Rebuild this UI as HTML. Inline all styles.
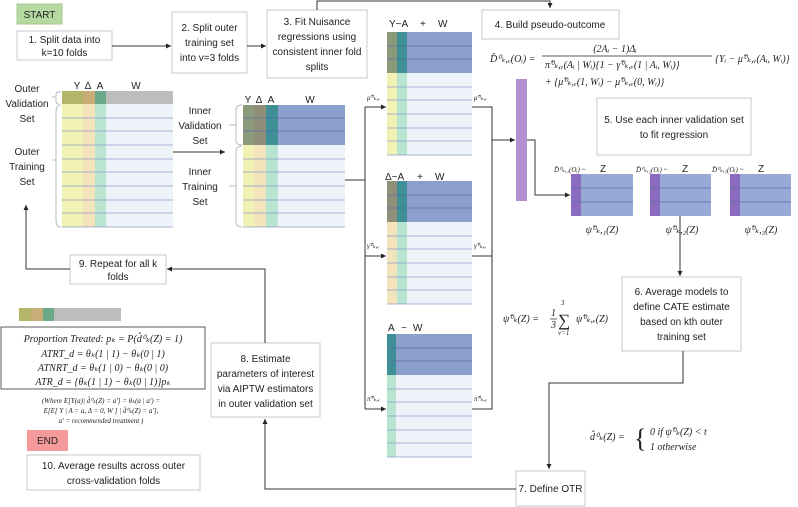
<!DOCTYPE html>
<html><head><meta charset="utf-8"><style>
html,body{margin:0;padding:0;background:#fff;}
svg{display:block;}
.t{font-family:"Liberation Sans",sans-serif;font-size:10px;fill:#222;}
.m{font-family:"Liberation Serif",serif;font-style:italic;font-size:10px;fill:#222;}
.s{font-family:"Liberation Serif",serif;font-style:italic;font-size:7px;fill:#222;}
.box{fill:#fff;stroke:#c8c8c8;stroke-width:1;}
.ln{fill:none;stroke:#333;stroke-width:1;}
.rl{stroke:#8e9cc8;stroke-width:0.8;}
</style></head><body>
<svg width="798" height="507" viewBox="0 0 798 507" xmlns="http://www.w3.org/2000/svg">
<defs><marker id="a" markerWidth="6" markerHeight="6" refX="5" refY="3" orient="auto"><path d="M0,0.5 L5,3 L0,5.5z" fill="#222"/></marker></defs>

<rect x="17" y="4" width="45" height="20" fill="#b5d9a0" stroke="#a8c890"/>
<text class="t" x="39.5" y="18" text-anchor="middle">START</text>
<rect class="box" x="17" y="31" width="95" height="29"/>
<text class="t" x="64.5" y="43" text-anchor="middle">1. Split data into</text>
<text class="t" x="64.5" y="56" text-anchor="middle">k=10 folds</text>
<path class="ln" d="M112,46 H171" marker-end="url(#a)"/>
<rect class="box" x="172" y="12" width="75" height="61"/>
<text class="t" x="209.5" y="31" text-anchor="middle">2. Split outer</text>
<text class="t" x="209.5" y="46" text-anchor="middle">training set</text>
<text class="t" x="209.5" y="61" text-anchor="middle">into v=3 folds</text>
<path class="ln" d="M247,46 H266" marker-end="url(#a)"/>
<rect class="box" x="267" y="10" width="100" height="68"/>
<text class="t" x="317" y="25" text-anchor="middle">3. Fit Nuisance</text>
<text class="t" x="317" y="40" text-anchor="middle">regressions using</text>
<text class="t" x="317" y="55" text-anchor="middle">consistent inner fold</text>
<text class="t" x="317" y="70" text-anchor="middle">splits</text>
<path class="ln" d="M317,10 V1 H550 V8" marker-end="url(#a)"/>
<rect class="box" x="482" y="10" width="137" height="29"/>
<text class="t" x="550" y="28" text-anchor="middle">4. Build pseudo-outcome</text>

<!-- outer table -->
<text class="t" x="77" y="89" text-anchor="middle">Y</text>
<text class="t" x="88" y="89" text-anchor="middle">Δ</text>
<text class="t" x="100" y="89" text-anchor="middle">A</text>
<text class="t" x="136" y="89" text-anchor="middle">W</text>
<rect x="62" y="91" width="21" height="13" fill="#b5b56a"/>
<rect x="83" y="91" width="12" height="13" fill="#c9ad78"/>
<rect x="95" y="91" width="11" height="13" fill="#6aaa88"/>
<rect x="106" y="91" width="67" height="13" fill="#bdbdbd"/>
<rect x="62" y="104" width="21" height="123" fill="#f2f2b4"/>
<rect x="83" y="104" width="12" height="123" fill="#f3e4bc"/>
<rect x="95" y="104" width="11" height="123" fill="#b8e4d0"/>
<rect x="106" y="104" width="67" height="123" fill="#eef3fa"/>
<g class="rl"><line x1="62" y1="118" x2="173" y2="118"/><line x1="62" y1="131" x2="173" y2="131"/><line x1="62" y1="145" x2="173" y2="145"/><line x1="62" y1="159" x2="173" y2="159"/><line x1="62" y1="172" x2="173" y2="172"/><line x1="62" y1="186" x2="173" y2="186"/><line x1="62" y1="200" x2="173" y2="200"/><line x1="62" y1="213" x2="173" y2="213"/><line x1="62" y1="227" x2="173" y2="227"/></g>
<path d="M61,92 H58 Q56,92 56,95 V97 H52 M56,98 V101 Q56,104 59,104" fill="none" stroke="#bbb"/>
<path d="M61,105 Q56,105 56,112 V160 H52 M56,160 V220 Q56,227 61,227" fill="none" stroke="#bbb"/>
<text class="t" x="27" y="92" text-anchor="middle">Outer</text>
<text class="t" x="27" y="107" text-anchor="middle">Validation</text>
<text class="t" x="27" y="122" text-anchor="middle">Set</text>
<text class="t" x="27" y="155" text-anchor="middle">Outer</text>
<text class="t" x="27" y="170" text-anchor="middle">Training</text>
<text class="t" x="27" y="185" text-anchor="middle">Set</text>
<path class="ln" d="M173,152 H225" marker-end="url(#a)"/>

<!-- inner table -->
<text class="t" x="248" y="103" text-anchor="middle">Y</text>
<text class="t" x="259" y="103" text-anchor="middle">Δ</text>
<text class="t" x="271" y="103" text-anchor="middle">A</text>
<text class="t" x="310" y="103" text-anchor="middle">W</text>
<rect x="243" y="105" width="11" height="40" fill="#8a9a78"/>
<rect x="254" y="105" width="12" height="40" fill="#8f8f7a"/>
<rect x="266" y="105" width="12" height="40" fill="#3f8f96"/>
<rect x="278" y="105" width="67" height="40" fill="#8a9fcb"/>
<rect x="243" y="145" width="11" height="82" fill="#f2f2b4"/>
<rect x="254" y="145" width="12" height="82" fill="#f3e4bc"/>
<rect x="266" y="145" width="12" height="82" fill="#b8e4d0"/>
<rect x="278" y="145" width="67" height="82" fill="#eef3fa"/>
<g class="rl"><line x1="243" y1="118" x2="345" y2="118" stroke="#5a6fa8"/><line x1="243" y1="131" x2="345" y2="131" stroke="#5a6fa8"/><line x1="243" y1="159" x2="345" y2="159"/><line x1="243" y1="172" x2="345" y2="172"/><line x1="243" y1="186" x2="345" y2="186"/><line x1="243" y1="200" x2="345" y2="200"/><line x1="243" y1="213" x2="345" y2="213"/><line x1="243" y1="227" x2="345" y2="227"/></g>
<path d="M242,105 Q236,105 236,110 V125 H229 M236,125 V140 Q236,145 242,145" fill="none" stroke="#bbb"/>
<path d="M242,146 Q236,146 236,152 V186 H229 M236,186 V221 Q236,227 242,227" fill="none" stroke="#bbb"/>
<text class="t" x="200" y="114" text-anchor="middle">Inner</text>
<text class="t" x="200" y="129" text-anchor="middle">Validation</text>
<text class="t" x="200" y="144" text-anchor="middle">Set</text>
<text class="t" x="200" y="175" text-anchor="middle">Inner</text>
<text class="t" x="200" y="190" text-anchor="middle">Training</text>
<text class="t" x="200" y="205" text-anchor="middle">Set</text>

<path class="ln" d="M345,180 H365 M365,107 V409"/>
<path class="ln" d="M365,107 H386" marker-end="url(#a)"/>
<path class="ln" d="M365,256 H386" marker-end="url(#a)"/>
<path class="ln" d="M365,409 H386" marker-end="url(#a)"/>
<text class="s" x="367" y="100">μ̂⁰ₖ,ᵥ</text>
<text class="s" x="367" y="248">γ̂⁰ₖ,ᵥ</text>
<text class="s" x="367" y="401">π̂⁰ₖ,ᵥ</text>
<text class="s" x="474" y="100">μ̂⁰ₖ,ᵥ</text>
<text class="s" x="474" y="248">γ̂⁰ₖ,ᵥ</text>
<text class="s" x="474" y="401">π̂⁰ₖ,ᵥ</text>

<text class="t" x="389" y="27">Y~A</text><text class="t" x="420" y="27">+</text><text class="t" x="438" y="27">W</text>
<rect x="387" y="32" width="10" height="41" fill="#8a9a78"/>
<rect x="397" y="32" width="10" height="41" fill="#3f8f96"/>
<rect x="407" y="32" width="65" height="41" fill="#8a9fcb"/>
<rect x="387" y="73" width="10" height="82" fill="#f2f2b4"/>
<rect x="397" y="73" width="10" height="82" fill="#b8e4d0"/>
<rect x="407" y="73" width="65" height="82" fill="#eef3fa"/>
<g class="rl"><line x1="387" y1="46" x2="472" y2="46" stroke="#5a6fa8"/><line x1="387" y1="59" x2="472" y2="59" stroke="#5a6fa8"/><line x1="387" y1="87" x2="472" y2="87"/><line x1="387" y1="100" x2="472" y2="100"/><line x1="387" y1="114" x2="472" y2="114"/><line x1="387" y1="128" x2="472" y2="128"/><line x1="387" y1="141" x2="472" y2="141"/><line x1="387" y1="155" x2="472" y2="155"/></g>

<text class="t" x="385" y="180">Δ~A</text><text class="t" x="417" y="180">+</text><text class="t" x="435" y="180">W</text>
<rect x="387" y="181" width="10" height="41" fill="#8f8f7a"/>
<rect x="397" y="181" width="10" height="41" fill="#3f8f96"/>
<rect x="407" y="181" width="65" height="41" fill="#8a9fcb"/>
<rect x="387" y="222" width="10" height="82" fill="#f3e4bc"/>
<rect x="397" y="222" width="10" height="82" fill="#b8e4d0"/>
<rect x="407" y="222" width="65" height="82" fill="#eef3fa"/>
<g class="rl"><line x1="387" y1="195" x2="472" y2="195" stroke="#5a6fa8"/><line x1="387" y1="208" x2="472" y2="208" stroke="#5a6fa8"/><line x1="387" y1="236" x2="472" y2="236"/><line x1="387" y1="249" x2="472" y2="249"/><line x1="387" y1="263" x2="472" y2="263"/><line x1="387" y1="277" x2="472" y2="277"/><line x1="387" y1="290" x2="472" y2="290"/><line x1="387" y1="304" x2="472" y2="304"/></g>

<text class="t" x="388" y="331">A</text><text class="t" x="401" y="331">~</text><text class="t" x="413" y="331">W</text>
<rect x="387" y="334" width="9" height="41" fill="#3f8f96"/>
<rect x="396" y="334" width="76" height="41" fill="#8a9fcb"/>
<rect x="387" y="375" width="9" height="82" fill="#b8e4d0"/>
<rect x="396" y="375" width="76" height="82" fill="#eef3fa"/>
<g class="rl"><line x1="387" y1="348" x2="472" y2="348" stroke="#5a6fa8"/><line x1="387" y1="361" x2="472" y2="361" stroke="#5a6fa8"/><line x1="387" y1="389" x2="472" y2="389"/><line x1="387" y1="402" x2="472" y2="402"/><line x1="387" y1="416" x2="472" y2="416"/><line x1="387" y1="430" x2="472" y2="430"/><line x1="387" y1="443" x2="472" y2="443"/><line x1="387" y1="457" x2="472" y2="457"/></g>

<path class="ln" d="M472,107 H492 V409 H472 M472,256 H492"/>
<path class="ln" d="M492,140 H515" marker-end="url(#a)"/>
<rect x="516" y="79" width="11" height="122" fill="#b48fd0"/>
<path class="ln" d="M527,140 H535 V195 H570" marker-end="url(#a)"/>

<text class="m" x="490" y="62">D̂⁰ₖ,ᵥ(Oᵢ) =</text>
<text class="m" x="615" y="52" text-anchor="middle">(2Aᵢ − 1)Δᵢ</text>
<line x1="542" y1="56" x2="712" y2="56" stroke="#222" stroke-width="0.8"/>
<text class="m" x="545" y="68">π̂⁰ₖ,ᵥ(Aᵢ | Wᵢ){1 − γ̂⁰ₖ,ᵥ(1 | Aᵢ, Wᵢ)}</text>
<text class="m" x="715" y="62">{Yᵢ − μ̂⁰ₖ,ᵥ(Aᵢ, Wᵢ)}</text>
<text class="m" x="545" y="85">+ {μ̂⁰ₖ,ᵥ(1, Wᵢ) − μ̂⁰ₖ,ᵥ(0, Wᵢ)}</text>

<rect class="box" x="597" y="98" width="154" height="57"/>
<text class="t" x="674" y="123" text-anchor="middle">5. Use each inner validation set</text>
<text class="t" x="674" y="138" text-anchor="middle">to fit regression</text>

<g>
<rect x="571" y="174" width="62" height="42" fill="#97a9d4"/><rect x="571" y="174" width="10" height="42" fill="#8a6bbf"/>
<rect x="650" y="174" width="61" height="42" fill="#97a9d4"/><rect x="650" y="174" width="10" height="42" fill="#8a6bbf"/>
<rect x="730" y="174" width="61" height="42" fill="#97a9d4"/><rect x="730" y="174" width="10" height="42" fill="#8a6bbf"/>
<g stroke="#5a6fa8" stroke-width="0.8"><line x1="571" y1="188" x2="633" y2="188"/><line x1="571" y1="202" x2="633" y2="202"/><line x1="650" y1="188" x2="711" y2="188"/><line x1="650" y1="202" x2="711" y2="202"/><line x1="730" y1="188" x2="791" y2="188"/><line x1="730" y1="202" x2="791" y2="202"/></g>
</g>
<text class="s" x="554" y="172">D̂⁰ₖ,₁(Oᵢ) ~</text><text class="t" x="600" y="172">Z</text>
<text class="s" x="636" y="172">D̂⁰ₖ,₂(Oᵢ) ~</text><text class="t" x="682" y="172">Z</text>
<text class="s" x="712" y="172">D̂⁰ₖ,₃(Oᵢ) ~</text><text class="t" x="758" y="172">Z</text>
<text class="m" x="602" y="233" text-anchor="middle">ψ̂⁰ₖ,₁(Z)</text>
<text class="m" x="682" y="233" text-anchor="middle">ψ̂⁰ₖ,₂(Z)</text>
<text class="m" x="761" y="233" text-anchor="middle">ψ̂⁰ₖ,₃(Z)</text>
<path class="ln" d="M680,216 V276" marker-end="url(#a)"/>

<rect class="box" x="622" y="277" width="119" height="74"/>
<text class="t" x="681.5" y="295" text-anchor="middle">6. Average models to</text>
<text class="t" x="681.5" y="310" text-anchor="middle">define CATE estimate</text>
<text class="t" x="681.5" y="325" text-anchor="middle">based on kth outer</text>
<text class="t" x="681.5" y="340" text-anchor="middle">training set</text>
<text class="m" x="503" y="322">ψ̂⁰ₖ(Z) =</text>
<text class="m" x="551" y="316" font-size="9">1</text><line x1="550" y1="319" x2="557" y2="319" stroke="#222" stroke-width="0.7"/><text class="m" x="551" y="328" font-size="9">3</text>
<text x="558" y="326" font-family="Liberation Serif,serif" font-size="17" fill="#222">∑</text>
<text class="s" x="561" y="305">3</text><text class="s" x="558" y="335">v=1</text>
<text class="m" x="576" y="322">ψ̂⁰ₖ,ᵥ(Z)</text>

<path class="ln" d="M683,351 V383 H549 V469" marker-end="url(#a)"/>
<text class="m" x="590" y="440">d̂⁰ₖ(Z) =</text>
<text x="634" y="447" font-family="Liberation Serif,serif" font-size="26" fill="#222">{</text>
<text class="m" x="650" y="435">0 if ψ̂⁰ₖ(Z) &lt; t</text>
<text class="m" x="650" y="450">1 otherwise</text>

<rect class="box" x="516" y="471" width="69" height="35"/>
<text class="t" x="550.5" y="492" text-anchor="middle">7. Define OTR</text>
<path class="ln" d="M516,489 H265 V419" marker-end="url(#a)" stroke="#555"/>

<rect class="box" x="211" y="343" width="109" height="74"/>
<text class="t" x="265.5" y="362" text-anchor="middle">8. Estimate</text>
<text class="t" x="265.5" y="377" text-anchor="middle">parameters of interest</text>
<text class="t" x="265.5" y="392" text-anchor="middle">via AIPTW estimators</text>
<text class="t" x="265.5" y="407" text-anchor="middle">in outer validation set</text>
<path class="ln" d="M265,343 V269 H167" marker-end="url(#a)" stroke="#555"/>

<rect class="box" x="70" y="255" width="96" height="29"/>
<text class="t" x="118" y="267" text-anchor="middle">9. Repeat for all k</text>
<text class="t" x="118" y="280" text-anchor="middle">folds</text>
<path class="ln" d="M70,269 H26 V205" marker-end="url(#a)"/>

<rect x="19" y="308" width="12" height="13" fill="#b5b56a"/>
<rect x="31" y="308" width="12" height="13" fill="#c9ad78"/>
<rect x="43" y="308" width="11" height="13" fill="#6aaa88"/>
<rect x="54" y="308" width="67" height="13" fill="#bdbdbd"/>
<rect x="1" y="327" width="204" height="62" fill="#fff" stroke="#333" stroke-width="0.8"/>
<text class="m" x="103" y="342" text-anchor="middle">Proportion Treated: pₖ = P(d̂⁰ₖ(Z) = 1)</text>
<text class="m" x="103" y="357" text-anchor="middle">ATRT_d = θₖ(1 | 1) − θₖ(0 | 1)</text>
<text class="m" x="103" y="371" text-anchor="middle">ATNRT_d = θₖ(1 | 0) − θₖ(0 | 0)</text>
<text class="m" x="103" y="385" text-anchor="middle">ATR_d = {θₖ(1 | 1) − θₖ(0 | 1)}pₖ</text>
<text class="s" x="101" y="403" text-anchor="middle">(Where E[Y(a)| d̂⁰ₖ(Z) = a′] = θₖ(a | a′) =</text>
<text class="s" x="101" y="413" text-anchor="middle">E[E[ Y | A = a, Δ = 0, W ] | d̂⁰ₖ(Z) = a′],</text>
<text class="s" x="101" y="423" text-anchor="middle">a′ = recommended treatment )</text>
<rect x="27" y="430" width="41" height="21" fill="#f59a9a"/>
<text class="t" x="47.5" y="444" text-anchor="middle">END</text>
<rect class="box" x="27" y="455" width="173" height="35"/>
<text class="t" x="113.5" y="469" text-anchor="middle">10. Average results across outer</text>
<text class="t" x="113.5" y="484" text-anchor="middle">cross-validation folds</text>
</svg>
</body></html>
